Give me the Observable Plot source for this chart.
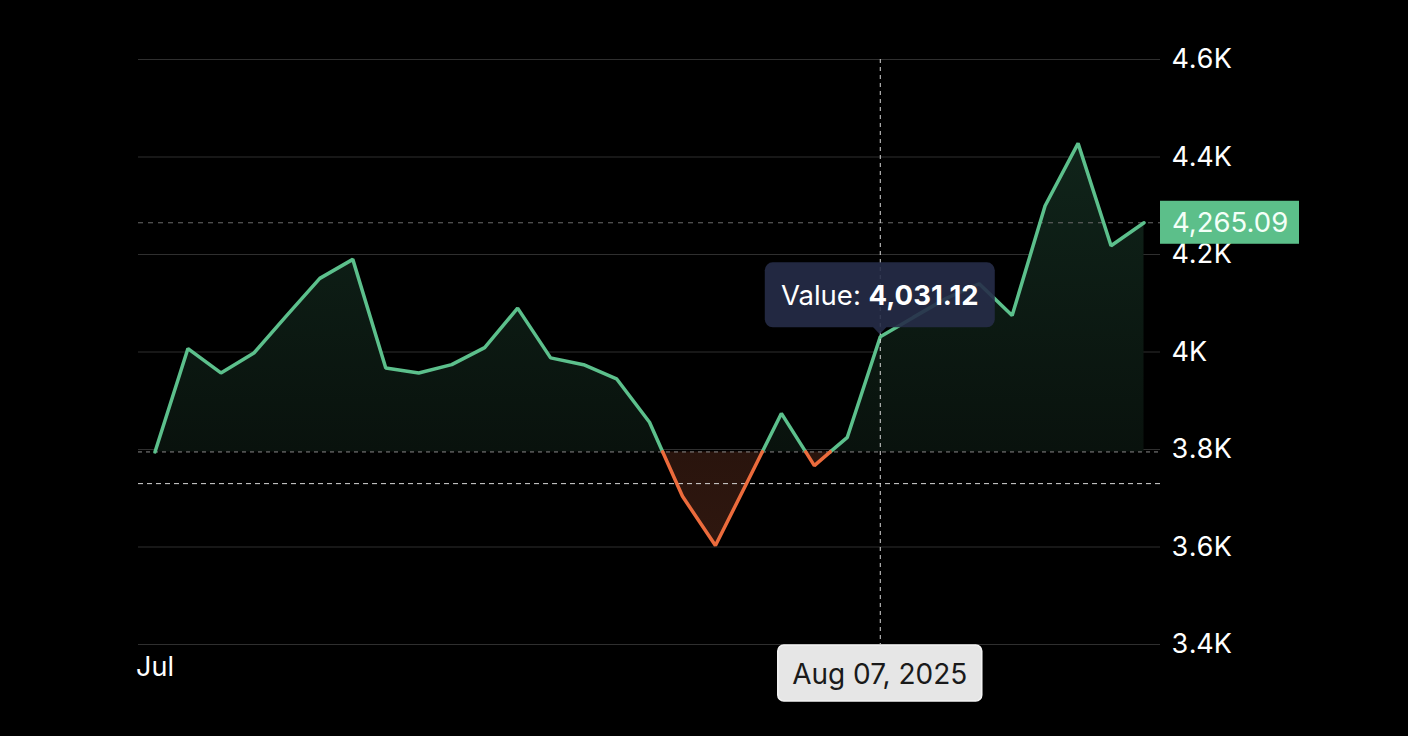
<!DOCTYPE html>
<html>
<head>
<meta charset="utf-8">
<script src="https://cdn.jsdelivr.net/npm/d3@7"></script>
<script src="https://cdn.jsdelivr.net/npm/@observablehq/plot@0.6"></script>
<style>
  html, body { margin: 0; padding: 0; background: #000; }
  svg { display: block; }
</style>
</head>
<body>
<div id="chart"></div>
<script>
// ---- data ----
const values = [3795, 4007, 3957, 3998, 4075, 4151, 4190, 3967, 3957, 3974, 4009, 4090, 3988, 3974, 3945, 3856,
                3704, 3603, 3738, 3874, 3767, 3825, 4031.12, 4071, 4110, 4140, 4075, 4300, 4428, 4218, 4265.09];
const baseline = values[0];          // first value: green above, red below
const refLevel = 3730;               // second dashed reference level
const yTicks = [3400, 3600, 3800, 4000, 4200, 4400, 4600];
const xTickIndex = [0];
const xTickLabels = ["Jul"];
const focusIndex = 22;
const focusDateLabel = "Aug 07, 2025";

const GREEN = "#5cc08c";
const RED = "#ec6b3c";
const FONT = "Inter, 'Noto Sans', sans-serif";

const n = values.length;

// points with inserted baseline crossings
const pts = [];
for (let i = 0; i < n; i++) {
  pts.push({x: i, v: values[i]});
  if (i < n - 1) {
    const a = values[i] - baseline, b = values[i + 1] - baseline;
    if (a * b < 0) { const t = a / (a - b); pts.push({x: i + t, v: baseline}); }
  }
}
const areaRows = pts.map(p => ({x: p.x, up: Math.max(p.v, baseline), dn: Math.min(p.v, baseline)}));

const runs = [];
let cur = null;
for (let k = 0; k < pts.length - 1; k++) {
  const p = pts[k], q = pts[k + 1];
  const up = (p.v + q.v) / 2 >= baseline;
  if (!cur || cur.up !== up) { cur = {up, pts: [p]}; runs.push(cur); }
  cur.pts.push(q);
}
const lineRows = runs.flatMap((r, j) => r.pts.map(p => ({x: p.x, v: p.v, run: j, up: r.up})));

const defs = () => {
  const d = d3.create("svg:defs");
  const g = d.append("linearGradient").attr("id", "gGreen").attr("x1", 0).attr("y1", 0).attr("x2", 0).attr("y2", 1);
  g.append("stop").attr("offset", "0%").attr("stop-color", "#10241a");
  g.append("stop").attr("offset", "100%").attr("stop-color", "#09120d");
  const r = d.append("linearGradient").attr("id", "gRed").attr("x1", 0).attr("y1", 0).attr("x2", 0).attr("y2", 1);
  r.append("stop").attr("offset", "0%").attr("stop-color", "#29140d");
  r.append("stop").attr("offset", "100%").attr("stop-color", "#2f170f");
  return d.node();
};

const tooltip = (index, scales) => {
  const X = scales.x(focusIndex), Y = scales.y(values[focusIndex]);
  const g = d3.create("svg:g").attr("font-family", FONT);
  g.append("rect").attr("x", X - 115).attr("y", Y - 74).attr("width", 230).attr("height", 65)
    .attr("rx", 8).attr("fill", "#262c48").attr("fill-opacity", 0.9);
  g.append("path").attr("d", `M${X - 7},${Y - 9.5}L${X + 7},${Y - 9.5}L${X},${Y - 2}Z`)
    .attr("fill", "#262c48").attr("fill-opacity", 0.9);
  const t = g.append("text").attr("x", X).attr("y", Y - 31).attr("text-anchor", "middle")
    .attr("fill", "#fff").attr("font-size", 27.5);
  t.append("tspan").text("Value: ");
  t.append("tspan").attr("font-weight", 700).text(d3.format(",.2f")(values[focusIndex]));
  return g.node();
};

const dateBox = (index, scales, values_, dims) => {
  const X = scales.x(focusIndex);
  const top = dims.height - dims.marginBottom + 1;
  const g = d3.create("svg:g").attr("font-family", FONT);
  g.append("rect").attr("x", X - 102).attr("y", top).attr("width", 204).attr("height", 56)
    .attr("rx", 6).attr("fill", "#e6e6e6").attr("stroke", "#f4f4f4").attr("stroke-width", 1.5);
  g.append("text").attr("x", X).attr("y", top + 39).attr("text-anchor", "middle")
    .attr("fill", "#1a1a1a").attr("font-size", 28).text(focusDateLabel);
  return g.node();
};

const lastBadge = (index, scales, values_, dims) => {
  const Y = scales.y(values[n - 1]);
  const x0 = dims.width - dims.marginRight;
  const g = d3.create("svg:g").attr("font-family", FONT);
  g.append("rect").attr("x", x0).attr("y", Y - 21.5).attr("width", 139).attr("height", 43).attr("fill", "#5cbf8a");
  g.append("text").attr("x", x0 + 12).attr("y", Y).attr("dy", "0.36em").attr("text-anchor", "start")
    .attr("fill", "#f4fff8").attr("font-size", 27.5).text(d3.format(",.2f")(values[n - 1]));
  return g.node();
};

const chart = Plot.plot({
  width: 1408,
  height: 736,
  marginLeft: 138,
  marginRight: 248,
  marginTop: 59,
  marginBottom: 92,
  style: {background: "#000", color: "#fff", fontFamily: FONT, fontSize: "27px", overflow: "visible"},
  x: {domain: [-0.5, n - 0.5], axis: null},
  y: {domain: [3400, 4600], axis: null},
  marks: [
    defs,
    Plot.gridY(yTicks, {stroke: "#2f2f2f", strokeOpacity: 1, strokeWidth: 1}),
    Plot.areaY(areaRows, {x: "x", y1: baseline, y2: "up", fill: "url(#gGreen)"}),
    Plot.areaY(areaRows, {x: "x", y1: baseline, y2: "dn", fill: "url(#gRed)"}),
    Plot.ruleY([baseline], {stroke: "#8a8a8a", strokeDasharray: "4,4", strokeWidth: 1}),
    Plot.ruleY([refLevel], {stroke: "#d8d8d8", strokeDasharray: "5,4", strokeWidth: 1}),
    Plot.ruleY([values[n - 1]], {stroke: "#6a6a6a", strokeDasharray: "5,5", strokeWidth: 1}),
    Plot.line(lineRows.filter(d => d.up), {x: "x", y: "v", z: "run", stroke: GREEN, strokeWidth: 3.5, strokeLinejoin: "miter"}),
    Plot.line(lineRows.filter(d => !d.up), {x: "x", y: "v", z: "run", stroke: RED, strokeWidth: 3.5, strokeLinejoin: "miter"}),
    Plot.ruleX([focusIndex], {stroke: "#d8d8d8", strokeDasharray: "4,4", strokeWidth: 1}),
    Plot.axisY(yTicks, {anchor: "right", tickSize: 0, tickPadding: 11, fill: "#fff", fontSize: 27,
      tickFormat: d => (d / 1000) + "K"}),
    Plot.text(xTickIndex, {x: d => d, y: () => 3400, text: (d, i) => xTickLabels[i], dy: 23, fill: "#fff", fontSize: 27}),
    tooltip,
    dateBox,
    lastBadge
  ]
});
document.getElementById("chart").appendChild(chart);
</script>
</body>
</html>
